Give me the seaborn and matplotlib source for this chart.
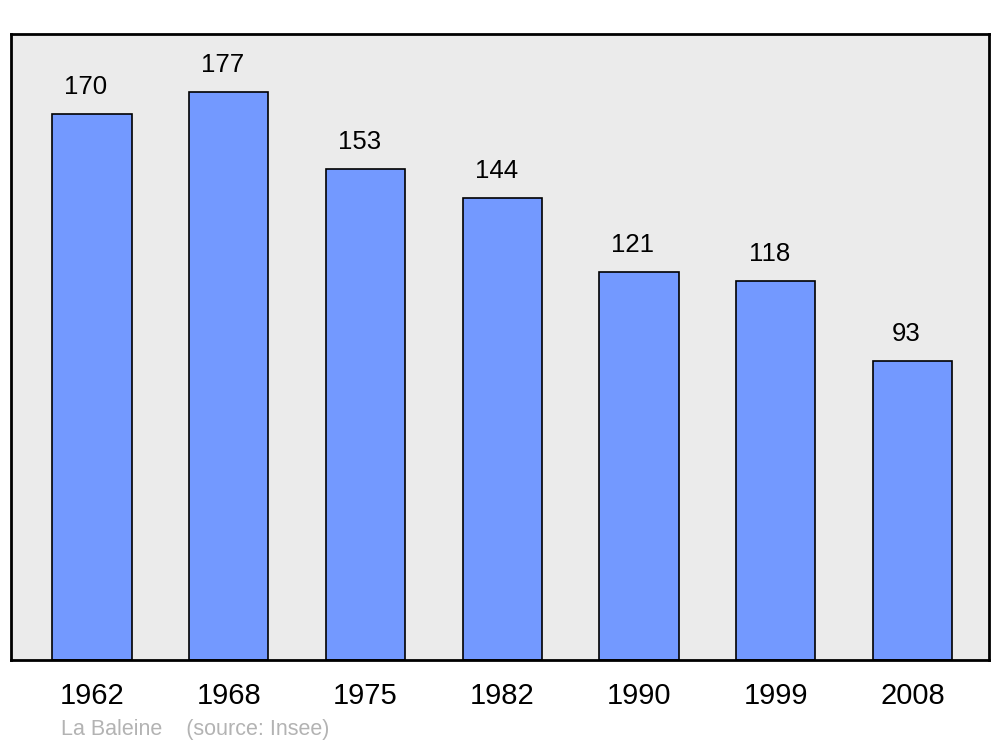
import pandas as pd
import matplotlib.pyplot as plt
import seaborn as sns

# data
years = ['1962', '1968', '1975', '1982', '1990', '1999', '2008']
population = [170, 177, 153, 144, 121, 118, 93]
source_text = 'La Baleine    (source: Insee)'

df = pd.DataFrame({'year': years, 'pop': population})

sns.set_style('white')
plt.rcParams['font.family'] = ['Liberation Sans', 'DejaVu Sans']
plt.rcParams['text.color'] = 'black'
plt.rcParams['xtick.color'] = 'black'

fig = plt.figure(figsize=(10, 7.47), dpi=100)
ax = fig.add_axes([0.011, 1 - 660 / 747, 0.978, 626 / 747])
ax.set_facecolor('#ebebeb')

sns.barplot(data=df, x='year', y='pop', color='#7399ff', saturation=1,
            width=0.58, edgecolor='black', linewidth=1.2, ax=ax)

# value labels above bars
for i, v in enumerate(population):
    ax.text(i - 0.045, v + 8.4, str(v), ha='center', va='center',
            fontsize=18.5, color='black')

ax.set_xlim(-0.592, 6.559)
ax.set_ylim(0, 195)
ax.set_xlabel('')
ax.set_ylabel('')
ax.set_yticks([])
ax.tick_params(axis='x', length=0, labelsize=21, pad=16, labelcolor='black')
for s in ax.spines.values():
    s.set_visible(True)
    s.set_linewidth(2)
    s.set_color('black')

fig.text(0.061, 1 - 730 / 747, source_text, fontsize=15.5, color='#b3b3b3',
         ha='left', va='center')

fig.savefig('out.png', dpi=100)
